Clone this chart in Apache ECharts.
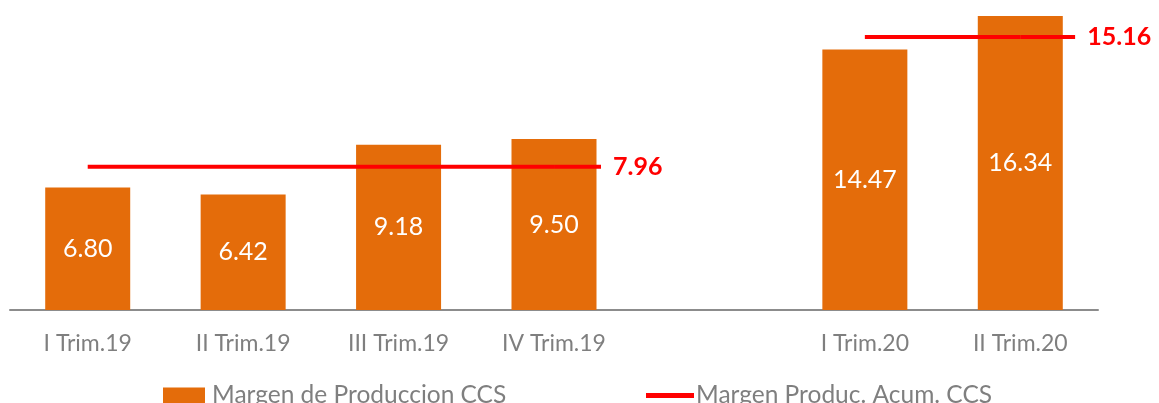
<!DOCTYPE html>
<html>
<head>
<meta charset="utf-8">
<script src="https://cdn.jsdelivr.net/npm/echarts@6/dist/echarts.min.js"></script>
<style>
  html, body { margin: 0; padding: 0; background: #fff; }
  #chart { width: 1159px; height: 403px; }
</style>
</head>
<body>
<div id="chart"></div>
<script>
var categories = ['I Trim.19', 'II Trim.19', 'III Trim.19', 'IV Trim.19', '', 'I Trim.20', 'II Trim.20'];
var margenProd = [6.80, 6.42, 9.18, 9.50, null, 14.47, 16.34];
var margenAcum = [7.96, 7.96, 7.96, 7.96, null, 15.16, 15.16];
var acumLabelIdx = [3, 6];

var chart = echarts.init(document.getElementById('chart'));

var lineData = margenAcum.map(function (v, i) {
    if (acumLabelIdx.indexOf(i) >= 0) {
        return { value: v, label: { show: true } };
    }
    return v;
});

var option = {
    animation: false,
    textStyle: { fontFamily: 'Lato' },
    grid: { left: 10, right: 61, top: 4, bottom: 93 },
    legend: [{
        left: 163,
        top: 383,
        padding: 0,
        itemWidth: 42,
        itemHeight: 16,
        itemGap: 5,
        textStyle: { color: '#7f7f7f', fontSize: 24.5, fontFamily: 'Lato', padding: [0, 0, 0, 2] },
        data: [{ name: 'Margen de Produccion CCS', icon: 'rect' }]
    }, {
        left: 646,
        top: 383,
        padding: 0,
        itemWidth: 48,
        itemHeight: 16,
        itemGap: 3,
        textStyle: { color: '#7f7f7f', fontSize: 24.5, fontFamily: 'Lato', padding: [0, 0, 0, -3] },
        data: [{ name: 'Margen Produc. Acum. CCS', icon: 'path://M0,0 L48,0 L48,5 L0,5 Z' }]
    }],
    xAxis: {
        type: 'category',
        data: categories,
        axisTick: { show: false },
        axisLine: { lineStyle: { color: '#8c8c8c', width: 2 } },
        axisLabel: { color: '#7f7f7f', fontSize: 23, margin: 22, fontFamily: 'Lato' }
    },
    yAxis: {
        type: 'value',
        min: 0,
        max: 17,
        show: false,
        splitLine: { show: false }
    },
    series: [{
        name: 'Margen de Produccion CCS',
        type: 'bar',
        data: margenProd,
        barWidth: 85,
        itemStyle: { color: '#e46c0a' },
        label: {
            show: true,
            position: 'inside',
            color: '#fff',
            fontSize: 25,
            fontFamily: 'Lato',
            formatter: function (p) { return p.value.toFixed(2); }
        }
    }, {
        name: 'Margen Produc. Acum. CCS',
        type: 'line',
        data: lineData,
        symbol: 'circle',
        symbolSize: 0.1,
        showSymbol: true,
        connectNulls: false,
        itemStyle: { color: '#ff0000' },
        lineStyle: { color: '#ff0000', width: 4 },
        label: {
            show: false,
            position: 'right',
            distance: 0,
            padding: [2, 0, 2, 12],
            backgroundColor: '#ffffff',
            color: '#ff0000',
            fontSize: 25,
            fontWeight: 'bold',
            fontFamily: 'Lato',
            formatter: function (p) { return p.value.toFixed(2); }
        },
        labelLayout: function (p) {
            return { dx: p.dataIndex === 3 ? 47 : 55 };
        },
        labelLine: {
            show: true,
            lineStyle: { color: '#ff0000', width: 4 }
        }
    }]
};

chart.setOption(option);
</script>
</body>
</html>
